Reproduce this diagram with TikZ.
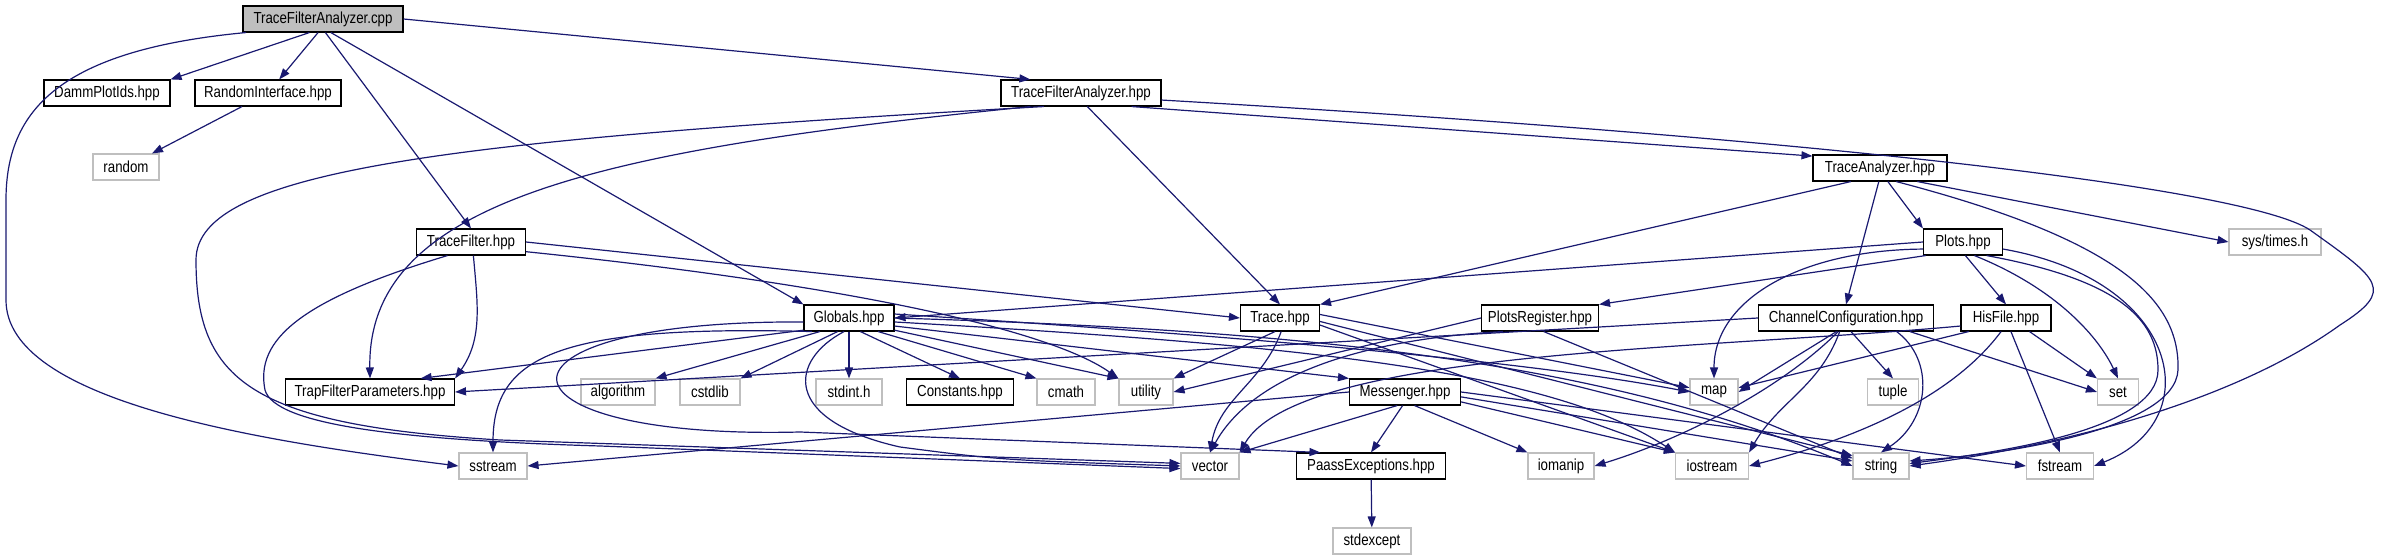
\documentclass[tikz,border=0pt]{standalone}
\usepackage{fontspec}
\setmainfont{Liberation Sans}[FakeStretch=0.83]
\usetikzlibrary{arrows.meta}
\definecolor{edgeblue}{HTML}{191970}
\definecolor{sysgray}{HTML}{BFBFBF}
\definecolor{rootgray}{HTML}{BFBFBF}
\tikzset{
 base/.style={draw, minimum height=13pt, inner sep=0pt, line width=0.55pt, font=\fontsize{8}{9}\selectfont, anchor=center},
 hdr/.style={base, draw=black, fill=white},
 sysn/.style={base, draw=sysgray, fill=white},
 rootn/.style={base, draw=black, fill=rootgray},
 e/.style={draw=edgeblue, line width=0.6pt, -{Triangle[length=5.5pt,width=4pt]}},
}
\begin{document}
\begin{tikzpicture}[x=0.5pt,y=-0.5pt]
\useasboundingbox (0,0) rectangle (2382,560);
% nodes
\node[rootn, minimum width=80pt] (root) at (323,19) {TraceFilterAnalyzer.cpp};
\node[hdr, minimum width=63pt] (damm) at (107,93) {DammPlotIds.hpp};
\node[hdr, minimum width=73pt] (rand) at (268,93) {RandomInterface.hpp};
\node[sysn, minimum width=33pt] (random) at (126,167) {random};
\node[hdr, minimum width=80pt] (tfah) at (1081,93) {TraceFilterAnalyzer.hpp};
\node[hdr, minimum width=67pt] (ta) at (1880,168) {TraceAnalyzer.hpp};
\node[hdr, minimum width=54.5pt] (tf) at (471,242) {TraceFilter.hpp};
\node[hdr, minimum width=39.5pt] (plots) at (1963,242) {Plots.hpp};
\node[sysn, minimum width=46pt] (sys) at (2275,242) {sys/times.h};
\node[hdr, minimum width=45pt] (glob) at (849,318) {Globals.hpp};
\node[hdr, minimum width=39.5pt] (trace) at (1280,318) {Trace.hpp};
\node[hdr, minimum width=58.5pt] (preg) at (1540,318) {PlotsRegister.hpp};
\node[hdr, minimum width=87.5pt] (chan) at (1846,318) {ChannelConfiguration.hpp};
\node[hdr, minimum width=45pt] (his) at (2006,318) {HisFile.hpp};
\node[hdr, minimum width=84.5pt] (trap) at (370,392) {TrapFilterParameters.hpp};
\node[sysn, minimum width=37pt] (alg) at (618,392) {algorithm};
\node[sysn, minimum width=30pt] (cstd) at (710,392) {cstdlib};
\node[sysn, minimum width=33pt] (stdint) at (849,392) {stdint.h};
\node[hdr, minimum width=53.5pt] (const) at (960,392) {Constants.hpp};
\node[sysn, minimum width=29pt] (cmath) at (1066,392) {cmath};
\node[sysn, minimum width=27pt] (util) at (1146,392) {utility};
\node[hdr, minimum width=55.5pt] (mess) at (1405,392) {Messenger.hpp};
\node[sysn, minimum width=24pt] (map) at (1714,392) {map};
\node[sysn, minimum width=25.5pt] (tuple) at (1893,392) {tuple};
\node[sysn, minimum width=20.5pt] (set) at (2118,392) {set};
\node[sysn, minimum width=34pt] (sstream) at (493,466) {sstream};
\node[sysn, minimum width=29pt] (vector) at (1210,466) {vector};
\node[hdr, minimum width=74.5pt] (paass) at (1371,466) {PaassExceptions.hpp};
\node[sysn, minimum width=33pt] (iomanip) at (1561,466) {iomanip};
\node[sysn, minimum width=36.5pt] (iostream) at (1712,466) {iostream};
\node[sysn, minimum width=28pt] (string) at (1881,466) {string};
\node[sysn, minimum width=33.5pt] (fstream) at (2060,466) {fstream};
\node[sysn, minimum width=39pt] (stdexcept) at (1372,541) {stdexcept};

% root
\draw[e] (root.225) -- (damm.north east);
\draw[e] (root.250) -- (rand);
\draw[e] (root.280) -- (tf.north);
\draw[e] (root.300) -- (glob.north west);
\draw[e] (root.east) -- (tfah.165);
\draw[e] (root.190) .. controls (60,50) and (6,110) .. (6,200) -- (6,300) .. controls (6,400) and (250,440) .. (sstream.west);
\draw[e] (rand) -- (random);
% tfah
\draw[e] (tfah.-15) -- (ta.170);
\draw[e] (tfah.-65) -- (trace.north);
\draw[e] (tfah.195) .. controls (600,150) and (367,200) .. (trap.north);
\draw[e] (tfah.200) .. controls (450,140) and (196,170) .. (196,260) .. controls (196,380) and (250,425) .. (500,440) -- (vector.175);
\draw[e] (tfah.-5) .. controls (1850,140) and (2250,190) .. (2310,230) .. controls (2380,280) and (2395,290) .. (2340,325) .. controls (2250,390) and (2100,440) .. (string.east);
% ta
\draw[e] (ta.205) -- (trace.north east);
\draw[e] (ta.-60) -- (plots.north west);
\draw[e] (ta.265) -- (chan.north);
\draw[e] (ta.-20) -- (sys.west);
\draw[e] (ta.-40) .. controls (2120,240) and (2180,300) .. (2178,370) .. controls (2175,430) and (2000,455) .. (string.10);
% tf
\draw[e] (tf.-80) to[out=-85,in=55] (trap.north east);
\draw[e] (tf.east) -- (trace.west);
\draw[e] (tf.-10) .. controls (850,285) and (1050,330) .. (util.north west);
\draw[e] (tf.-150) .. controls (300,300) and (255,340) .. (265,390) .. controls (275,425) and (400,440) .. (600,446) -- (vector.185);
% plots
\draw[e] (plots.west) -- (glob.east);
\draw[e] (plots.200) -- (preg.north east);
\draw[e] (plots.190) .. controls (1800,250) and (1714,300) .. (map.north);
\draw[e] (plots.-80) -- (his.north);
\draw[e] (plots.-50) .. controls (2060,290) and (2100,340) .. (set.north);
\draw[e] (plots.-30) .. controls (2120,280) and (2158,320) .. (2158,370) .. controls (2158,430) and (2000,452) .. (string.5);
\draw[e] (plots.-10) .. controls (2180,280) and (2210,420) .. (fstream.east);
% glob
\draw[e] (glob.195) -- (trap.15);
\draw[e] (glob.200) .. controls (560,325) and (493,355) .. (sstream.north);
\draw[e] (glob.205) -- (alg.north east);
\draw[e] (glob.230) -- (cstd.north east);
\draw[e] (glob.south) -- (stdint.north);
\draw[e] (glob.-50) -- (const.north);
\draw[e] (glob.-25) -- (cmath.north west);
\draw[e] (glob.-15) -- (util.north west);
\draw[e] (glob.-10) -- (mess.north west);
\draw[e] (glob.5) .. controls (1300,340) and (1550,365) .. (map.west);
\draw[e] (glob.0) .. controls (1300,330) and (1600,360) .. (string.west);
\draw[e] (glob.-5) .. controls (1300,345) and (1550,370) .. (iostream.north west);
\draw[e] (glob.185) .. controls (470,320) and (480,440) .. (800,432) -- (paass.165);
\draw[e] (glob.250) .. controls (790,360) and (780,420) .. (900,447) .. controls (1000,460) .. (vector.west);
% trace
\draw[e] (trace.250) -- (util.north east);
\draw[e] (trace.275) to[out=-110,in=80] (vector.north);
\draw[e] (trace.5) -- (map.170);
\draw[e] (trace.-10) -- (iostream.north west);
\draw[e] (trace.-5) -- (string.160);
% preg
\draw[e] (preg.west) -- (util.east);
\draw[e] (preg.200) .. controls (1350,340) and (1250,380) .. (vector.north);
\draw[e] (preg.-75) -- (string.165);
% chan
\draw[e] (chan.west) -- (trap.east);
\draw[e] (chan.235) -- (map.east);
\draw[e] (chan.-70) -- (tuple.north);
\draw[e] (chan.-12) -- (set.west);
\draw[e] (chan.-15) .. controls (1935,360) and (1930,420) .. (string.north);
\draw[e] (chan.245) to[out=-110,in=60] (iostream.north east);
\draw[e] (chan.240) .. controls (1780,390) and (1680,440) .. (iomanip.east);
% his
\draw[e] (his.200) -- (map.10);
\draw[e] (his.-30) -- (set.north west);
\draw[e] (his.250) .. controls (1950,400) and (1850,440) .. (iostream.east);
\draw[e] (his.-70) -- (fstream.north);
\draw[e] (his.190) .. controls (1700,350) and (1300,350) .. (vector.north east);
% mess
\draw[e] (mess.west) -- (sstream.east);
\draw[e] (mess.240) -- (vector.north east);
\draw[e] (mess.-100) -- (paass.north);
\draw[e] (mess.-55) -- (iomanip.north west);
\draw[e] (mess.-10) -- (iostream.north west);
\draw[e] (mess.-5) -- (string.170);
\draw[e] (mess.0) -- (fstream.west);
\draw[e] (paass) -- (stdexcept);
\end{tikzpicture}
\end{document}
